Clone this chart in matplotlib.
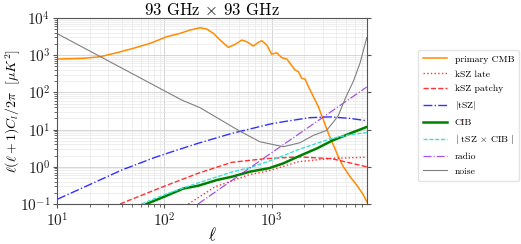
import matplotlib
matplotlib.use("Agg")
import matplotlib.pyplot as plt

plt.rcParams['font.family'] = ['cmr10', 'DejaVu Serif']
plt.rcParams['mathtext.fontset'] = 'cm'
plt.rcParams['axes.formatter.use_mathtext'] = True

title = r"93 GHz $\times$ 93 GHz"
labels = ['primary CMB', 'kSZ late', 'kSZ patchy', r'$|$tSZ$|$', 'CIB',
          r'$|$ tSZ $\times$ CIB $|$', 'radio', 'noise']

cmb_l = [10, 17.5, 25, 36, 51, 73.5, 105, 140, 173, 215, 248, 286, 331, 395,
         457, 527, 587, 676, 753, 810, 902, 1004, 1118, 1245, 1387, 1489,
         1657, 1780, 1913, 2055, 2210, 2457, 2735, 3050, 3390, 3775, 4200,
         4680, 5410, 6250, 7200, 7740]
cmb_d = [790, 826, 910, 1170, 1530, 2090, 3140, 3880, 4750, 5480, 5060, 3880,
         2560, 1630, 1960, 2560, 2310, 1770, 2220, 2460, 1880, 1060, 1170, 857,
         791, 606, 400, 360, 239, 229, 142, 77, 41, 18, 7.9, 3.85, 1.87,
         1.0, 0.54, 0.32, 0.175, 0.115]

ksz_late_l = [167, 297, 607, 968, 1780, 3650, 7740]
ksz_late_d = [0.1, 0.29, 0.6, 0.8, 1.37, 1.69, 1.8]

ksz_patchy_l = [38.5, 82, 113, 207, 425, 867, 1780, 3650, 7740]
ksz_patchy_d = [0.1, 0.24, 0.345, 0.67, 1.32, 1.65, 1.85, 1.65, 1.0]

tsz_l = [10, 19.5, 40, 82, 113, 207, 425, 968, 1290, 2290, 3520, 5410, 7740]
tsz_d = [0.134, 0.32, 0.82, 1.8, 2.45, 4.3, 7.9, 14.1, 16.3, 21, 22, 20, 17.3]

cib_l = [68, 101, 150, 207, 308, 425, 630, 950, 1290, 1780, 2660, 3650, 5410, 7740]
cib_d = [0.1, 0.16, 0.26, 0.31, 0.44, 0.54, 0.74, 0.92, 1.24, 1.9, 3.14, 5.0, 7.9, 11.8]

tszcib_l = [61, 101, 150, 207, 425, 630, 968, 1290, 1780, 2660, 3650, 5410, 7740]
tszcib_d = [0.1, 0.18, 0.27, 0.37, 0.72, 0.95, 1.45, 2.0, 2.9, 4.3, 5.8, 7.3, 8.3]

radio_l = [206, 869, 7740]
radio_d = [0.1, 1.8, 140]

noise_l = [10, 145, 215, 508, 781, 1290, 1845, 2457, 3260, 3900, 4200, 4680,
           5040, 5800, 6700, 7740]
noise_d = [3790, 62.5, 38.8, 9.0, 4.7, 3.47, 4.45, 7.0, 9.5, 18, 24, 52,
           85, 200, 620, 3000]

fig = plt.figure(figsize=(5.21, 2.44), dpi=100)
ax = fig.add_axes([0.110, 0.164, 0.594, 0.762])

h = []
h += ax.plot(cmb_l, cmb_d, color='darkorange', lw=1.1)
h += ax.plot(ksz_late_l, ksz_late_d, color='red', ls=':', lw=1.0, alpha=0.8)
h += ax.plot(ksz_patchy_l, ksz_patchy_d, color='red', ls='--', lw=1.0, alpha=0.8)
h += ax.plot(tsz_l, tsz_d, color='blue', ls='-.', lw=1.0, alpha=0.8)
h += ax.plot(cib_l, cib_d, color='green', ls='-', lw=1.8)
h += ax.plot(tszcib_l, tszcib_d, color='turquoise', ls=(0, (3, 1.2)), lw=1.0)
h += ax.plot(radio_l, radio_d, color='blueviolet', ls='-.', lw=0.9, alpha=0.8)
h += ax.plot(noise_l, noise_d, color='gray', ls='-', lw=0.8)

ax.set_xscale('log')
ax.set_yscale('log')
ax.set_xlim(10, 7740)
ax.set_ylim(0.1, 1e4)
ax.grid(True, which='major', color='#d0d0d0', lw=0.6)
ax.grid(True, which='minor', color='#e8e8e8', lw=0.5)
ax.set_axisbelow(True)
for s in ax.spines.values():
    s.set_color('#555555')
    s.set_linewidth(0.8)
ax.tick_params(which='both', labelsize=11, colors='#555555', labelcolor='#222222',
               pad=2)
ax.tick_params(axis='y', right=True)
ax.tick_params(which='major', length=3)
ax.tick_params(which='minor', length=2)
ax.set_title(title, fontsize=12, pad=1)
ax.set_xlabel(r'$\ell$', fontsize=12)
ax.xaxis.set_label_coords(0.5, -0.115)
ax.set_ylabel(r'$\ell(\ell+1)C_l/2\pi\ \ [\mu K^2]$', fontsize=10)
ax.yaxis.set_label_coords(-0.112, 0.5)

leg = fig.legend(h, labels, loc='upper left', bbox_to_anchor=(0.793, 0.815),
                 fontsize=7, handlelength=2.5, labelspacing=0.62,
                 frameon=True, edgecolor='#dddddd', fancybox=True, borderpad=0.5)

fig.savefig('out.png', dpi=100)
